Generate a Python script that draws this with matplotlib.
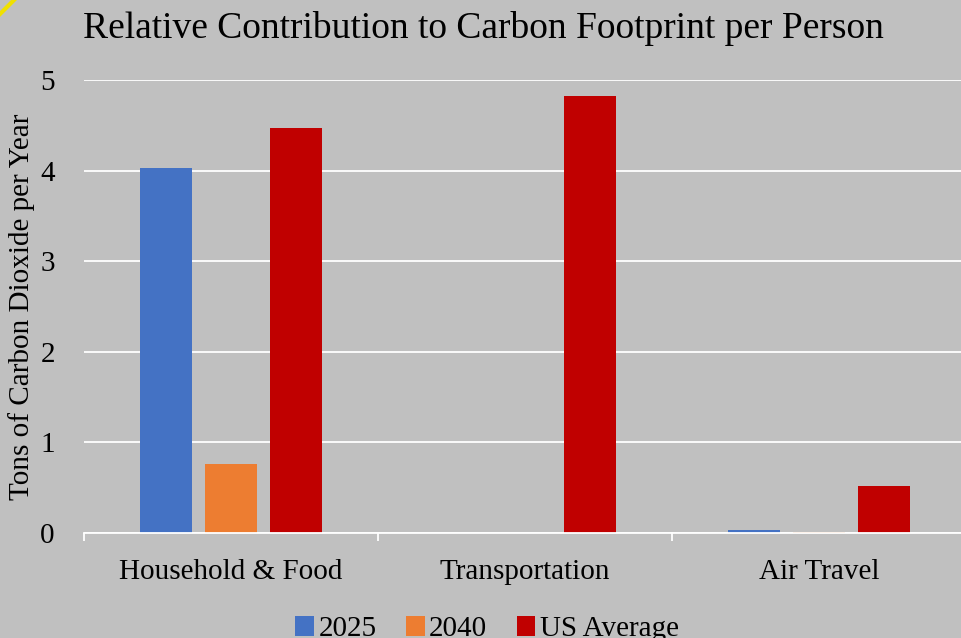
"""
Grouped bar chart: relative contribution to carbon footprint per person.
"""
import numpy as np
import matplotlib.pyplot as plt
from matplotlib.lines import Line2D

categories = ['Household & Food', 'Transportation', 'Air Travel']
series_names = ['2025', '2040', 'US Average']
vals_2025 = [4.03, 0.0, 0.03]
vals_2040 = [0.76, 0.0, 0.01]
vals_us = [4.47, 4.82, 0.52]
colors = ['#4472C4', '#ED7D31', '#C00000']

plt.rcParams['font.family'] = ['Liberation Serif', 'DejaVu Serif']

fig = plt.figure(figsize=(9.62, 6.38), dpi=100)
fig.patch.set_facecolor('#C0C0C0')
ax = fig.add_axes([84 / 962, 105 / 638, 882 / 962, 453 / 638])
ax.set_facecolor('#C0C0C0')

x = np.arange(len(categories))
width = 0.177
step = 0.221
for i, (vals, name) in enumerate(zip([vals_2025, vals_2040, vals_us], series_names)):
    ax.bar(x + (i - 1) * step, vals, width, color=colors[i], label=name, zorder=3)

ax.set_xlim(-0.5, 2.5)
ax.set_ylim(0, 5)
ax.set_yticks(range(0, 6))
ax.yaxis.grid(True, color='white', linewidth=1.3, zorder=0)
ax.tick_params(axis='y', length=0, labelsize=21, pad=21)
for s in ['top', 'right', 'left']:
    ax.spines[s].set_visible(False)
ax.spines['bottom'].set_color('white')
ax.spines['bottom'].set_linewidth(1.3)
ax.spines['bottom'].set_zorder(4)

# category labels centred, tick marks on boundaries
ax.set_xticks(x)
ax.set_xticklabels(categories, fontsize=21)
ax.tick_params(axis='x', length=0, pad=19)
ax.set_xticks([-0.5, 0.5, 1.5], minor=True)
ax.tick_params(axis='x', which='minor', length=6, color='white', width=1.3)

ax.set_ylabel('Tons of Carbon Dioxide per Year', fontsize=21)
ax.yaxis.set_label_coords(-0.056, 0.5)
fig.text(83 / 962, 1 - 29 / 638, 'Relative Contribution to Carbon Footprint per Person',
         fontsize=27, va='center', ha='left')

ax.legend(loc='upper center', bbox_to_anchor=(0.457, -0.126), ncol=3, frameon=False,
          fontsize=21, handlelength=0.65, handleheight=0.65, handletextpad=0.15,
          columnspacing=1.0)

# yellow corner mark
fig.add_artist(Line2D([0, 14 / 962], [1 - 14 / 638, 1], color='#F0E000', linewidth=3,
                      transform=fig.transFigure))

fig.savefig('out.png', dpi=100, facecolor=fig.get_facecolor())
